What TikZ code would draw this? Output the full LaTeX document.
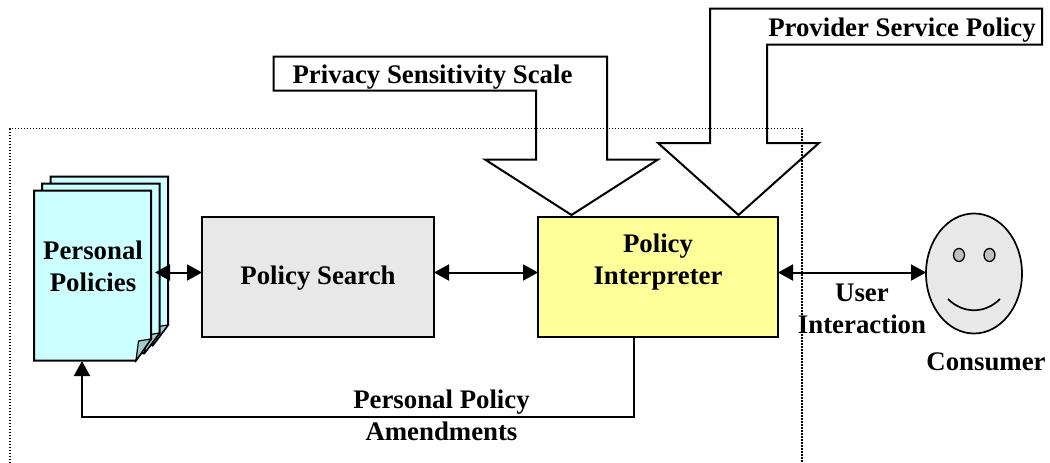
\documentclass[tikz,border=0pt]{standalone}
\usepackage{fontspec}
\setmainfont{Liberation Serif}
\usetikzlibrary{arrows.meta,shapes.geometric}
\definecolor{pagecyan}{HTML}{CCFFFF}
\definecolor{foldcyan}{HTML}{A3CCCC}
\definecolor{boxgray}{HTML}{E8E8E8}
\definecolor{boxyellow}{HTML}{FFFF99}
\definecolor{eyegray}{HTML}{BFBFBF}
\tikzset{
  x=1pt,y=-1pt,
  lbl/.style={font=\fontsize{26.8}{32}\selectfont\bfseries,align=center,inner sep=0pt,text=black},
  outline/.style={draw=black,line width=2pt,line join=miter},
  thinline/.style={draw=black,line width=1.2pt,line join=miter},
  flow/.style={draw=black,line width=2pt},
  tip/.style={-{Triangle[length=15pt,width=16pt]}},
  both/.style={{Triangle[length=15pt,width=16pt]}-{Triangle[length=15pt,width=16pt]}},
  boundary/.style={draw=black,line width=1.3pt,dash pattern=on 1.5pt off 1.5pt},
  procbox/.style={outline,inner sep=0pt,outer sep=0pt,anchor=north west},
}
\begin{document}
\begin{tikzpicture}
\useasboundingbox (0,0) rectangle (1050,463);
% boundary
\draw[boundary] (10,463) -- (10,128.5) -- (802,128.5) -- (802,463);
% block arrows
\draw[outline] (273.5,56.5) -- (607,56.5) -- (607,159.5) -- (658,159.5) -- (571.5,215) -- (485,159.5) -- (536,159.5) -- (536,90.5) -- (273.5,90.5) -- cycle;
\draw[outline] (710,8.5) -- (1042,8.5) -- (1042,44.5) -- (767,44.5) -- (767,143) -- (819,143) -- (738.5,215) -- (658,143) -- (710,143) -- cycle;
% pages
\draw[outline,fill=pagecyan] (50.5,176.5) -- (168,176.5) -- (168,325) -- (153,345) -- (50.5,345) -- cycle;
\draw[thinline,fill=foldcyan] (168,325) -- (153,345) -- (155,327) -- cycle;
\draw[outline,fill=pagecyan] (42,183.5) -- (159.5,183.5) -- (159.5,333) -- (144.5,353) -- (42,353) -- cycle;
\draw[thinline,fill=foldcyan] (159.5,333) -- (144.5,353) -- (147,335) -- cycle;
\draw[outline,fill=pagecyan] (34,190.5) -- (151,190.5) -- (151,339) -- (136,360.5) -- (34,360.5) -- cycle;
\draw[thinline,fill=foldcyan] (151,339) -- (136,360.5) -- (138.5,341) -- cycle;
\node[lbl] (pp) at (93,266) {Personal\\Policies};
% boxes
\node[procbox,fill=boxgray,minimum width=232pt,minimum height=120pt] (ps) at (202,216.5) {};
\node[lbl] (pstext) at (318,278) {Policy Search};
\node[procbox,fill=boxyellow,minimum width=240pt,minimum height=120pt] (pi) at (538,216.5) {};
\node[lbl] (pitext) at (658,262) {Policy\\Interpreter};
% face
\node[ellipse,draw=black,line width=1.7pt,fill=boxgray,minimum width=96pt,minimum height=120pt,inner sep=0pt,outer sep=0pt] (face) at (974,273.5) {};
\draw[fill=eyegray,line width=1.3pt] (959,255) ellipse [x radius=5.5,y radius=6.5];
\draw[fill=eyegray,line width=1.3pt] (989.5,255) ellipse [x radius=5.5,y radius=6.5];
\draw[line width=1.7pt] (948,299) .. controls (963,314) and (985,314) .. (1000,299);
% labels
\node[lbl] (t1) at (432.5,77) {Privacy Sensitivity Scale};
\node[lbl] (t2) at (902,30) {Provider Service Policy};
\node[lbl] (t3) at (862,309) {User\\Interaction};
\node[lbl] (t4) at (986,362) {Consumer};
\node[lbl] (t5) at (441.5,415.5) {Personal Policy\\Amendments};
% connectors
\coordinate (ppr) at (155,272.5);
\draw[flow,both] (ppr) -- (ps.west |- ppr);
\draw[flow,both] (ps.east |- ppr) -- (pi.west |- ppr);
\draw[flow,both] (pi.east |- ppr) -- (face.west |- ppr);
\coordinate (ppb) at (82,361);
\coordinate (pibot) at (634,336.5);
\draw[flow,tip] (pibot) -- (634,416.5) -- (82,416.5) -- (ppb);
\end{tikzpicture}
\end{document}
